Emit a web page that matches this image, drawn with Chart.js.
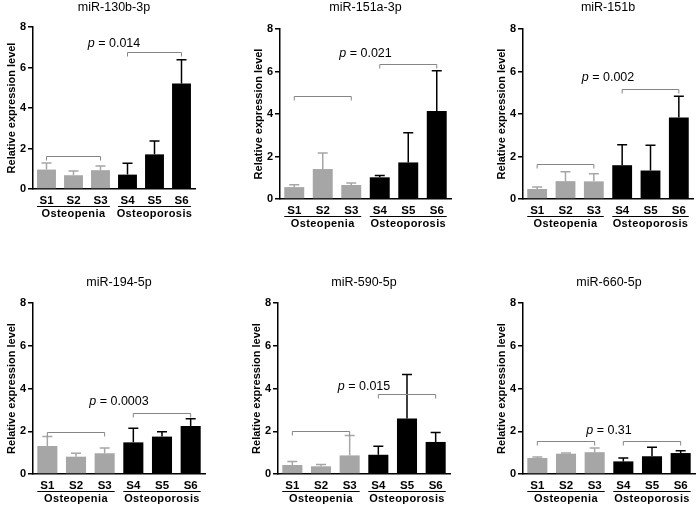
<!DOCTYPE html>
<html>
<head>
<meta charset="utf-8">
<script src="https://cdn.jsdelivr.net/npm/chart.js@4"></script>
<style>
  body { margin: 0; background: #fff; }
  #wrap { position: relative; width: 698px; height: 507px; background: #fff; }
  #wrap canvas { position: absolute; }
</style>
</head>
<body>
<div id="wrap"></div>
<script>
// Data
const samples = ['S1', 'S2', 'S3', 'S4', 'S5', 'S6'];
const groups = ['Osteopenia', 'Osteoporosis'];
const titles = ['miR-130b-3p', 'miR-151a-3p', 'miR-151b', 'miR-194-5p', 'miR-590-5p', 'miR-660-5p'];

const mean130b = [0.96, 0.68, 0.93, 0.71, 1.71, 5.21];
const sd130b   = [0.32, 0.21, 0.21, 0.56, 0.66, 1.17];
const mean151a = [0.56, 1.41, 0.66, 1.02, 1.72, 4.14];
const sd151a   = [0.11, 0.75, 0.09, 0.09, 1.40, 1.89];
const mean151b = [0.47, 0.84, 0.83, 1.59, 1.34, 3.84];
const sd151b   = [0.09, 0.44, 0.36, 0.96, 1.19, 0.99];
const mean194  = [1.31, 0.81, 0.97, 1.48, 1.75, 2.25];
const sd194    = [0.44, 0.16, 0.25, 0.66, 0.23, 0.34];
const mean590  = [0.42, 0.36, 0.87, 0.90, 2.60, 1.50];
const sd590    = [0.16, 0.09, 0.93, 0.40, 2.06, 0.44];
const mean660  = [0.75, 0.95, 1.02, 0.59, 0.83, 0.98];
const sd660    = [0.05, 0.03, 0.20, 0.16, 0.42, 0.11];

const pValues = ['0.014', '0.021', '0.002', '0.0003', '0.015', '0.31'];
const pLevel = [7.2, 6.85, 5.72, 3.4, 4.1, 2.03];        // height of the p text
const bracketPenia = [1.64, 4.86, 1.66, 1.98, 2.0, 1.53]; // bracket over S1-S3
const bracketPorosis = [6.77, 6.33, 5.2, 2.87, 3.73, 1.56]; // bracket over S4-S6

const yMax = 8;
const yStep = 2;

const allMeans = [mean130b, mean151a, mean151b, mean194, mean590, mean660];
const allSd = [sd130b, sd151a, sd151b, sd194, sd590, sd660];

// panel layout: canvas origin/size and plot area (page coords)
const panels = [
  { ox: 0,   oy: 0,   w: 232, h: 250, L: 33,  T: 27,  R: 195, B: 189 },
  { ox: 233, oy: 0,   w: 232, h: 250, L: 280, T: 29,  R: 451, B: 199 },
  { ox: 466, oy: 0,   w: 232, h: 250, L: 523, T: 29,  R: 693, B: 199 },
  { ox: 0,   oy: 250, w: 232, h: 257, L: 33,  T: 303, R: 205, B: 474 },
  { ox: 233, oy: 250, w: 232, h: 257, L: 278, T: 303, R: 450, B: 474 },
  { ox: 466, oy: 250, w: 232, h: 257, L: 523, T: 303, R: 695, B: 474 }
];

const FONT = '"Liberation Sans", Arial, sans-serif';
const GRAY = '#a6a6a6';
const barColors = [GRAY, GRAY, GRAY, '#000', '#000', '#000'];

// error bars, brackets, p values, titles and group labels
const annotPlugin = {
  id: 'annot',
  afterDatasetsDraw(chart, args, opts) {
    const ctx = chart.ctx;
    const xs = chart.scales.x, ys = chart.scales.y;
    const area = chart.chartArea;
    const meta = chart.getDatasetMeta(0);
    const cx = (area.left + area.right) / 2;

    ctx.save();
    // error bars (upper only)
    ctx.lineWidth = 1.5;
    meta.data.forEach((bar, i) => {
      const top = ys.getPixelForValue(opts.means[i] + opts.sd[i]);
      ctx.strokeStyle = barColors[i];
      ctx.beginPath();
      ctx.moveTo(bar.x, bar.y);
      ctx.lineTo(bar.x, top);
      ctx.moveTo(bar.x - 5, top);
      ctx.lineTo(bar.x + 5, top);
      ctx.stroke();
    });

    // brackets
    ctx.strokeStyle = '#858585';
    ctx.lineWidth = 1;
    [[0, 2, opts.low], [3, 5, opts.high]].forEach(([a, b, v]) => {
      const x1 = xs.getPixelForValue(a), x2 = xs.getPixelForValue(b);
      const yy = Math.round(ys.getPixelForValue(v)) + 0.5;
      ctx.beginPath();
      ctx.moveTo(x1, yy + 4);
      ctx.lineTo(x1, yy);
      ctx.lineTo(x2, yy);
      ctx.lineTo(x2, yy + 4);
      ctx.stroke();
    });

    // p value
    ctx.fillStyle = '#000';
    ctx.textBaseline = 'middle';
    ctx.textAlign = 'left';
    const py = ys.getPixelForValue(opts.pY);
    const rest = ' = ' + opts.p;
    ctx.font = 'italic 12.5px ' + FONT;
    const w1 = ctx.measureText('p').width;
    ctx.font = '12.5px ' + FONT;
    const w2 = ctx.measureText(rest).width;
    const sx = cx - (w1 + w2) / 2;
    ctx.font = 'italic 12.5px ' + FONT;
    ctx.fillText('p', sx, py);
    ctx.font = '12.5px ' + FONT;
    ctx.fillText(rest, sx + w1, py);

    // title
    ctx.textAlign = 'center';
    ctx.font = '12.5px ' + FONT;
    ctx.fillText(opts.title, cx, opts.titleY);

    // group underlines and labels
    const bw = meta.data[0].width;
    const base = area.bottom;
    ctx.strokeStyle = '#000';
    ctx.lineWidth = 1;
    ctx.font = 'bold 11px ' + FONT;
    if ('letterSpacing' in ctx) ctx.letterSpacing = '0.4px';
    [[0, 2], [3, 5]].forEach(([a, b], g) => {
      const x1 = meta.data[a].x - bw / 2, x2 = meta.data[b].x + bw / 2;
      ctx.beginPath();
      ctx.moveTo(x1, base + 17.5);
      ctx.lineTo(x2, base + 17.5);
      ctx.stroke();
      ctx.fillText(groups[g], meta.data[a + 1].x, base + 25);
    });
    ctx.restore();
  }
};

const wrap = document.getElementById('wrap');

panels.forEach((p, k) => {
  const canvas = document.createElement('canvas');
  canvas.width = p.w;
  canvas.height = p.h;
  canvas.style.left = p.ox + 'px';
  canvas.style.top = p.oy + 'px';
  wrap.appendChild(canvas);

  const yWidth = 28;
  const padLeft = p.L - p.ox - yWidth;
  const padTop = p.T - p.oy;
  const padRight = p.ox + p.w - p.R;
  const xHeight = p.oy + p.h - p.B;

  new Chart(canvas.getContext('2d'), {
    type: 'bar',
    data: {
      labels: samples,
      datasets: [{
        data: allMeans[k],
        backgroundColor: barColors,
        borderWidth: 0,
        categoryPercentage: 1,
        barPercentage: 0.7
      }]
    },
    options: {
      responsive: false,
      animation: false,
      layout: { padding: { left: padLeft, top: padTop, right: padRight, bottom: 0 } },
      plugins: {
        legend: { display: false },
        tooltip: { enabled: false },
        annot: {
          means: allMeans[k],
          sd: allSd[k],
          low: bracketPenia[k],
          high: bracketPorosis[k],
          p: pValues[k],
          pY: pLevel[k],
          title: titles[k],
          titleY: k < 3 ? 8 : 33
        }
      },
      scales: {
        x: {
          grid: { display: false, drawTicks: false },
          border: { color: '#000', width: 1.5 },
          ticks: { color: '#000', padding: 5, font: { family: FONT, size: 11.5, weight: 'bold' } },
          afterFit: s => { s.height = xHeight; }
        },
        y: {
          min: 0,
          max: yMax,
          ticks: { stepSize: yStep, color: '#000', padding: 2, font: { family: FONT, size: 11, weight: 'bold' } },
          grid: { drawOnChartArea: false, tickLength: 5, color: '#000', lineWidth: 1.5 },
          border: { color: '#000', width: 1.5 },
          title: {
            display: true,
            text: 'Relative expression level',
            color: '#000',
            padding: 0,
            font: { family: FONT, size: 11, weight: 'bold' }
          },
          afterFit: s => { s.width = yWidth; }
        }
      }
    },
    plugins: [annotPlugin]
  });
});
</script>
</body>
</html>
